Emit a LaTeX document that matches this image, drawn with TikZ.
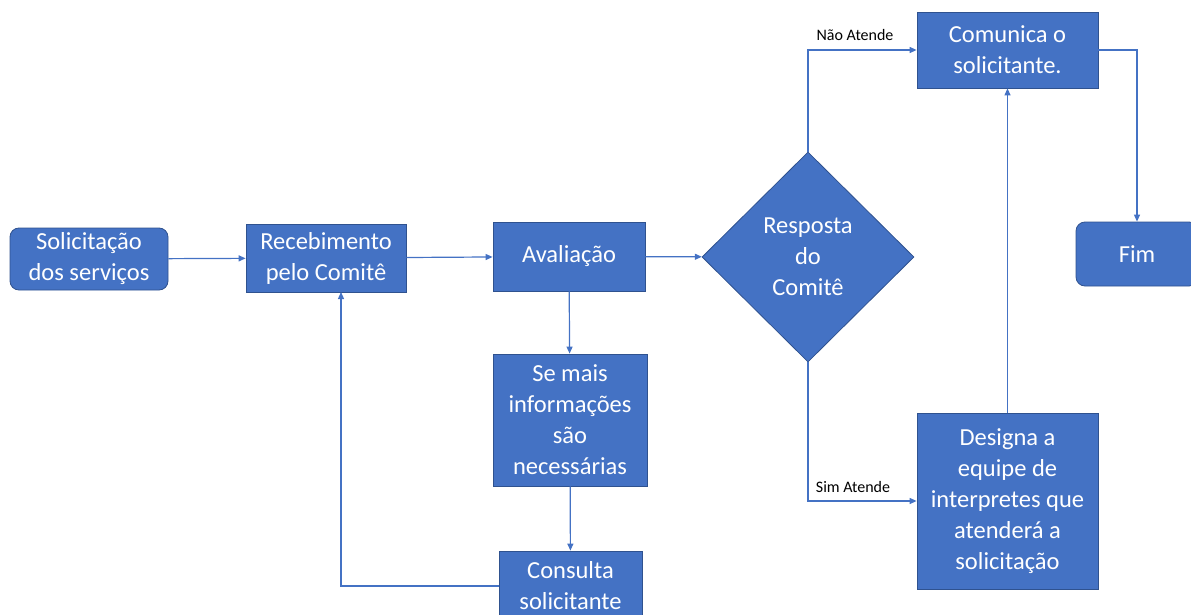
\documentclass[tikz,border=0pt]{standalone}
\usepackage{fontspec}
\setmainfont{Carlito}
\usetikzlibrary{shapes.geometric,arrows.meta}
\definecolor{boxblue}{HTML}{4472C4}
\definecolor{boxedge}{HTML}{2F528F}
\definecolor{linkblue}{HTML}{4472C4}
\begin{document}
\begin{tikzpicture}[x=1pt,y=-1pt,
  proc/.style={rectangle,fill=boxblue,draw=boxedge,line width=0.8pt,text=white,align=center,
    font=\fontsize{24.5}{31}\selectfont,inner sep=0pt},
  term/.style={proc,rounded corners=9pt},
  dec/.style={diamond,aspect=1,fill=boxblue,draw=boxedge,line width=0.8pt,text=white,align=center,
    font=\fontsize{24.5}{31}\selectfont,inner sep=0pt},
  link/.style={draw=linkblue,line width=1.2pt,-{Triangle[length=7pt,width=6pt]}},
  lbl/.style={font=\fontsize{16}{19}\selectfont,text=black}]
\useasboundingbox (0,0) rectangle (1191,615);
\node[term,minimum width=158pt,minimum height=62pt] (sol) at (89,259) {Solicitação\\dos serviços};
\node[proc,minimum width=160pt,minimum height=68pt] (rec) at (326,258) {Recebimento\\pelo Comitê};
\node[proc,minimum width=152pt,minimum height=69pt] (aval) at (569,256.5) {Avaliação};
\node[dec,minimum width=212pt,minimum height=210pt] (dia) at (808,257) {Resposta\\do\\Comitê};
\node[proc,minimum width=154pt,minimum height=132pt] (sem) at (570,420) {Se mais\\informações\\são\\necessárias};
\node[proc,minimum width=143pt,minimum height=70pt] (cons) at (570.5,586) {Consulta\\solicitante};
\node[proc,minimum width=181pt,minimum height=76pt] (com) at (1007.5,50) {Comunica o\\solicitante.};
\node[proc,minimum width=181pt,minimum height=176pt] (des) at (1007.5,501) {Designa a\\equipe de\\interpretes que\\atenderá a\\solicitação};
\node[term,minimum width=122pt,minimum height=64pt] (fim) at (1137,254) {Fim};
\coordinate (recin) at (341,292);
\draw[link] (sol) -- (rec);
\draw[link] (rec) -- (aval);
\draw[link] (aval) -- (dia);
\draw[link] (aval) -- (sem);
\draw[link] (sem) -- (cons);
\draw[link] (cons.west) -| (recin);
\draw[link] (dia.north) |- (com.west);
\draw[link] (dia.south) |- (des.west);
\draw[link] (com.east) -| (fim.north);
\draw[link] (des.north) -- (com.south);
\node[lbl] (nao) at (855,35) {Não Atende};
\node[lbl] (simlbl) at (853,487) {Sim Atende};
\end{tikzpicture}
\end{document}
